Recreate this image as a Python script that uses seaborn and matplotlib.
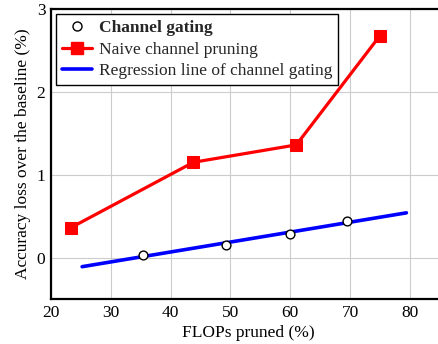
import numpy as np
import pandas as pd
import matplotlib
matplotlib.use("Agg")
import matplotlib.pyplot as plt
import seaborn as sns
from matplotlib.lines import Line2D

# channel gating measurements
gating_flops = [35.3, 49.3, 60.0, 69.4]
gating_loss = [0.03, 0.15, 0.29, 0.44]

# naive channel pruning
naive_flops = [23.3, 43.8, 61.0, 75.0]
naive_loss = [0.36, 1.15, 1.36, 2.68]

# regression line end points
reg_flops = [25.2, 79.4]
reg_loss = [-0.11, 0.54]

x_ticks = [20, 30, 40, 50, 60, 70, 80]
y_ticks = [0, 1, 2, 3]

sns.set_theme(style="whitegrid")
plt.rcParams["font.family"] = ["Liberation Serif", "DejaVu Serif"]
plt.rcParams["mathtext.fontset"] = "stix"

fig = plt.figure(figsize=(4.38, 3.44), dpi=100)
# axes box: left spine at x=51px, bottom at y=299px, top at y=9px, right runs off the figure
ax = fig.add_axes([51 / 438, 45 / 344, (446 - 51) / 438, 290 / 344])

naive_df = pd.DataFrame({"flops": naive_flops, "loss": naive_loss})
reg_df = pd.DataFrame({"flops": reg_flops, "loss": reg_loss})
gate_df = pd.DataFrame({"flops": gating_flops, "loss": gating_loss})

sns.lineplot(data=naive_df, x="flops", y="loss", ax=ax, color="#ff0000", lw=2.3,
             marker="s", markersize=8, markeredgecolor="#ff0000", sort=False, zorder=3)
sns.lineplot(data=reg_df, x="flops", y="loss", ax=ax, color="#0000ff", lw=2.6, zorder=3)
sns.scatterplot(data=gate_df, x="flops", y="loss", ax=ax, s=40, facecolor="white",
                edgecolor="black", linewidth=1.0, zorder=4)

ax.set_xlim(20, 20 + (446 - 51) / 5.983)
ax.set_ylim(-0.5, 3)
ax.set_xticks(x_ticks)
ax.set_yticks(y_ticks)
ax.grid(True, color="#cccccc", lw=0.8)
ax.tick_params(labelsize=12.5, length=0, pad=4, colors="black")
ax.set_xlabel("FLOPs pruned (%)", fontsize=12.5, color="black", labelpad=3)
ax.set_ylabel("Accuracy loss over the baseline (%)", fontsize=12.5, color="black", labelpad=4)
for side in ["left", "bottom", "top"]:
    ax.spines[side].set_color("black")
    ax.spines[side].set_linewidth(1.6)
ax.spines["right"].set_visible(False)

# legend in the same order as the original
handles = [
    Line2D([0], [0], marker="o", color="none", markerfacecolor="white",
           markeredgecolor="black", markersize=6.5, label="Channel gating"),
    Line2D([0], [0], marker="s", color="#ff0000", lw=2.3, markersize=8, label="Naive channel pruning"),
    Line2D([0], [0], color="#0000ff", lw=2.6, label="Regression line of channel gating"),
]
leg = ax.legend(handles=handles, loc="upper left", fontsize=12.5, frameon=True, fancybox=False,
                edgecolor="black", framealpha=1, borderaxespad=0.3, handlelength=1.7,
                labelspacing=0.3, borderpad=0.35, handletextpad=0.4)
leg.get_frame().set_linewidth(1.0)
leg.get_texts()[0].set_fontweight("bold")

fig.savefig("out.png", dpi=100)
